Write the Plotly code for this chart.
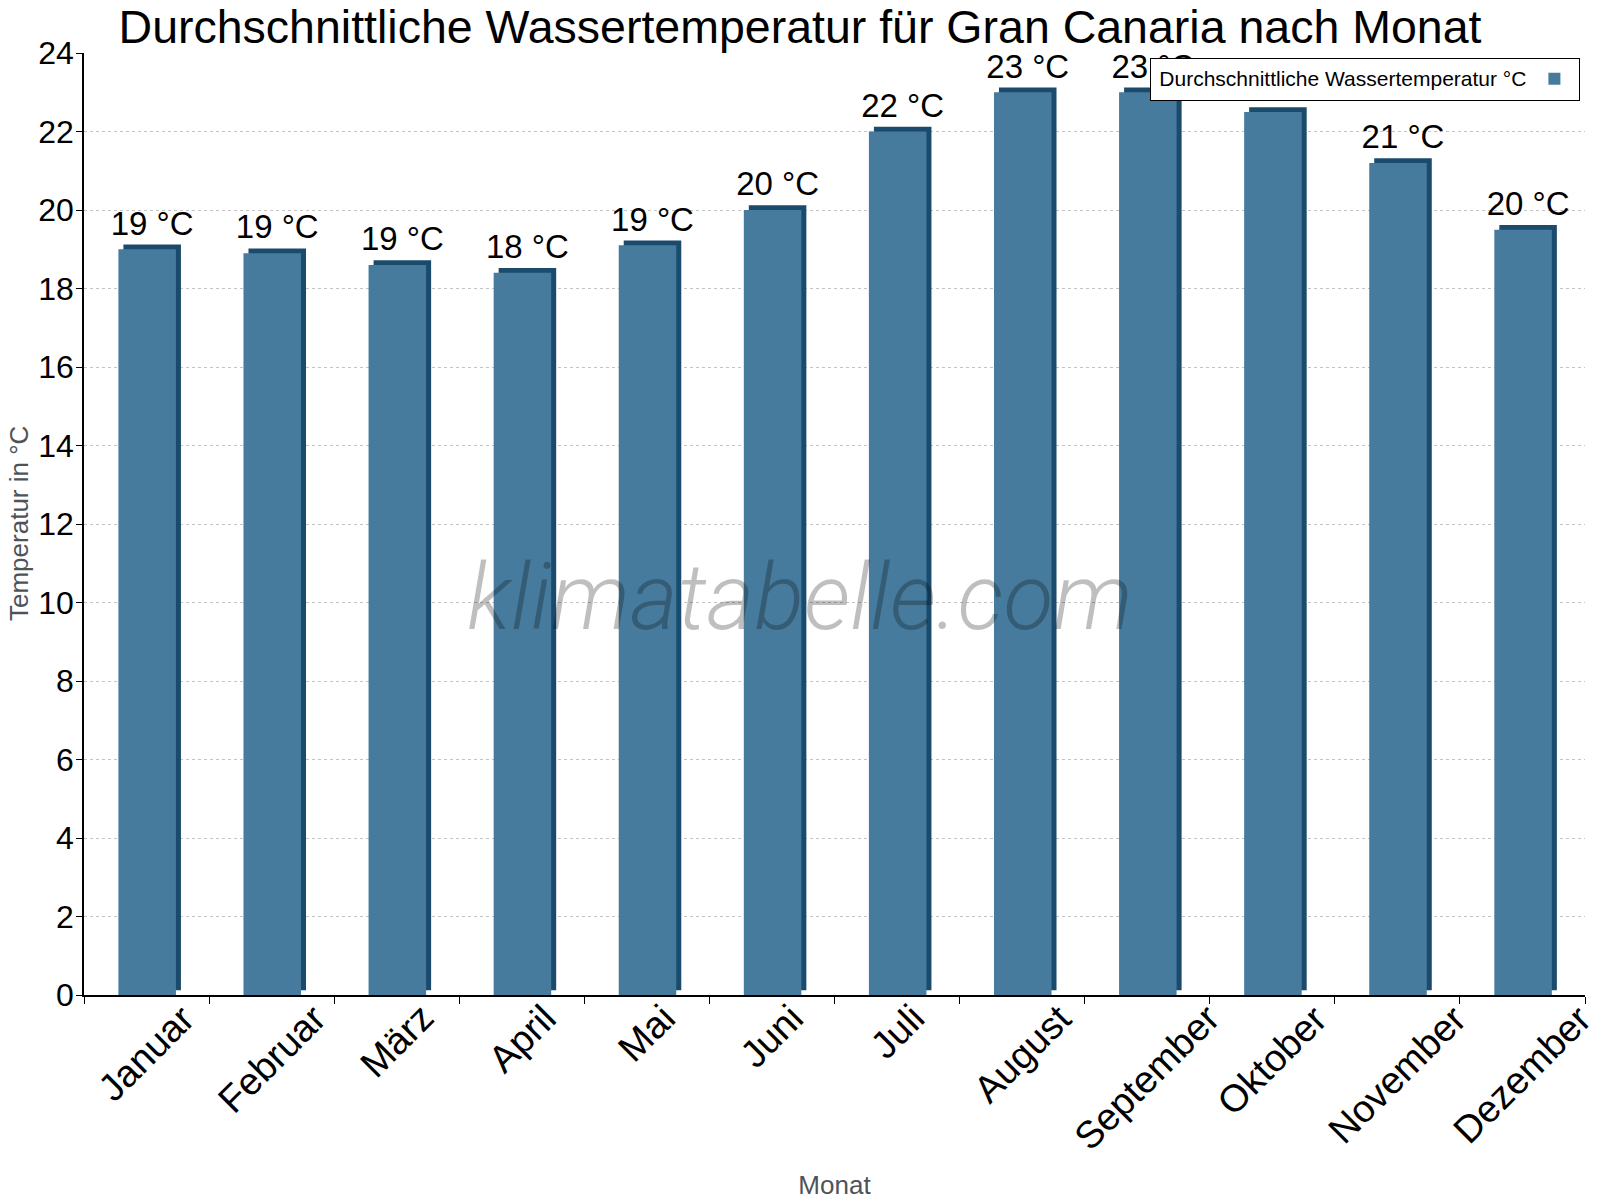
import plotly.graph_objects as go

months = ["Januar", "Februar", "März", "April", "Mai", "Juni", "Juli",
          "August", "September", "Oktober", "November", "Dezember"]
water_temp = [19.0, 18.9, 18.6, 18.4, 19.1, 20.0, 22.0, 23.0, 23.0, 22.5, 21.2, 19.5]
value_labels = ["19 °C", "19 °C", "19 °C", "18 °C", "19 °C", "20 °C", "22 °C",
                "23 °C", "23 °C", "23 °C", "21 °C", "20 °C"]
y_ticks = list(range(0, 25, 2))

FRONT = "#477B9D"
DARK = "#1A4B6D"
DEPTH = 0.12          # vertical 3D depth in data units
BAR_W = 0.46
BAR_OFF = -0.225
SIDE = 0.04

FONT = "Liberation Sans, Arial, Helvetica, sans-serif"
AXIS_TITLE_COLOR = "#4d5358"

fig = go.Figure()

# back (dark) face giving the 3D look, carries the value labels
fig.add_trace(go.Bar(
    x=months, y=water_temp, base=DEPTH,
    width=BAR_W, offset=BAR_OFF + SIDE,
    marker=dict(color=DARK, line=dict(width=0)),
    text=value_labels, textposition="outside", constraintext="none",
    textfont=dict(size=33, color="#000000", family=FONT),
    cliponaxis=False, showlegend=False, hoverinfo="skip",
))

# front face
fig.add_trace(go.Bar(
    x=months, y=water_temp,
    width=BAR_W, offset=BAR_OFF,
    marker=dict(color=FRONT, line=dict(width=0)),
    name="", showlegend=True,
))

W, H = 1592, 1192   # page body has an 8px margin

fig.update_layout(
    width=W, height=H,
    barmode="overlay",
    plot_bgcolor="white", paper_bgcolor="white",
    margin=dict(l=76, r=15, t=45, b=205, autoexpand=False),
    font=dict(family=FONT, color="#000000"),
    title=dict(
        text="Durchschnittliche Wassertemperatur für Gran Canaria nach Monat",
        x=792 / W, xanchor="center", xref="container",
        y=1 - 19 / H, yref="container", yanchor="middle",
        font=dict(size=46.5, family=FONT, color="#000000"),
    ),
    legend=dict(
        orientation="h",
        x=0.997, xanchor="right", y=0.995, yanchor="top",
        bgcolor="white", bordercolor="#000000", borderwidth=1,
        font=dict(size=21, family=FONT, color="#000000"),
        title=dict(text=" Durchschnittliche Wassertemperatur °C", side="left",
                   font=dict(size=21, family=FONT, color="#000000")),
        itemwidth=30,
    ),
    xaxis=dict(
        automargin=False,
        range=[-0.5, len(months) - 0.5],
        title=dict(text="Monat", font=dict(size=26, color=AXIS_TITLE_COLOR, family=FONT), standoff=180),
        showticklabels=False,
        ticks="outside", ticklen=7, tickcolor="#000000",
        tickson="boundaries",
        showline=True, linecolor="#000000", linewidth=1.5,
        showgrid=False,
    ),
    yaxis=dict(
        automargin=False,
        range=[0, 24],
        tickvals=y_ticks,
        tickfont=dict(size=32, family=FONT, color="#000000"),
        ticks="outside", ticklen=6, tickcolor="#000000",
        ticklabelstandoff=-4,
        showline=True, linecolor="#000000", linewidth=1.5,
        showgrid=True, gridcolor="#c4c4c4", griddash="dot", gridwidth=1,
        zeroline=False,
    ),
)

# y axis title
fig.add_annotation(
    text="Temperatur in °C", xref="paper", yref="paper", x=0, y=0.5,
    xanchor="center", yanchor="middle", xshift=-65, textangle=-90,
    showarrow=False, font=dict(size=26, color=AXIS_TITLE_COLOR, family=FONT),
)

# category labels, rotated and centred under each category
for m in months:
    fig.add_annotation(
        text=m, x=m, xref="x", y=0, yref="paper",
        xanchor="center", yanchor="top", yshift=1,
        textangle=-45, showarrow=False,
        font=dict(size=38, family=FONT, color="#000000"),
    )

fig.add_annotation(
    text="klimatabelle.com",
    xref="paper", yref="paper", x=0.477, y=0.422,
    xanchor="center", yanchor="middle",
    showarrow=False,
    font=dict(size=92, family="Roboto", color="rgba(0,0,0,0.25)", style="italic", weight=300),
)

fig.write_html("out.html")
